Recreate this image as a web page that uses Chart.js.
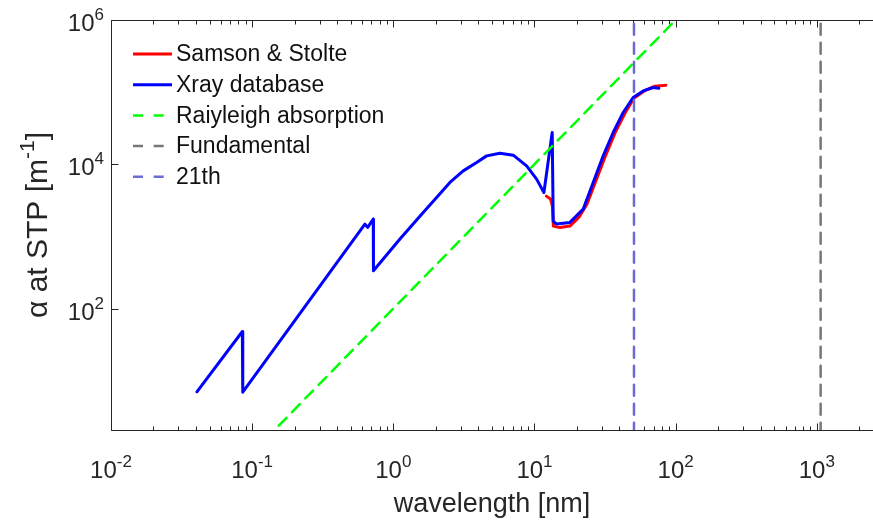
<!DOCTYPE html>
<html>
<head>
<meta charset="utf-8">
<script src="https://cdn.jsdelivr.net/npm/chart.js@4.4.1/dist/chart.umd.min.js"></script>
<style>
  html, body { margin: 0; padding: 0; background: #fff; }
  #chart { display: block; }
</style>
</head>
<body>
<canvas id="chart" width="873" height="522"></canvas>
<script>
// wavelength in nm, absorption coefficient in 1/m
const xrayWl = [0.0406, 0.0852, 0.0858, 0.629, 0.658, 0.721, 0.723, 1.114, 1.628, 2.026,
  2.517, 3.126, 3.89, 4.58, 5.689, 7.067, 8.793, 10.35, 11.66, 13.35,
  13.57, 14.34, 17.81, 22.13, 26.05, 30.66, 36.09, 42.48, 50.0, 58.87,
  69.29, 76.0];
const xrayAlpha = [6.98, 48.0, 6.91, 1481, 1332, 1736, 334, 918, 2150, 3469,
  5596, 8100, 10590, 13070, 14250, 13370, 9502, 6218, 4068, 27570,
  1629, 1481, 1563, 2388, 5596, 13070, 27570, 52190, 84190, 103900,
  115800, 113000];

const samsonWl = [12.14, 13.0, 13.39, 13.61, 15.13, 17.81, 20.66, 23.52, 26.81, 31.56,
  37.14, 43.72, 50.58, 59.55, 71.24, 85.23];
const samsonAlpha = [3615, 3285, 2628, 1389, 1324, 1389, 1851, 2802, 5472, 12540,
  26960, 51030, 82330, 102900, 120700, 124600];

const rayleighWl = [0.1, 100];
const rayleighAlpha = [1, 1e6];

const fundamentalWl = 1064;
const harmonicWl = 50.67;
const vLineAlpha = [1, 1e7];

const xTickExps = [-2, -1, 0, 1, 2, 3];
const minorSteps = [2, 3, 4, 5, 6, 7, 8, 9];
const yTickExps = [2, 4, 6];

const legendNames = ['Samson & Stolte', 'Xray database', 'Raiyleigh absorption', 'Fundamental', '21th'];

const axisColor = '#262626';
const fontFam = '"Liberation Sans", Arial, sans-serif';

function pairs(xs, ys) {
  return xs.map((v, i) => ({ x: v, y: ys[i] }));
}

function drawPow(ctx, exp, x, y, align, size) {
  const base = '10';
  const sup = String(exp);
  const supSize = Math.round(size * 0.72);
  ctx.font = size + 'px ' + fontFam;
  const wb = ctx.measureText(base).width;
  ctx.font = supSize + 'px ' + fontFam;
  const ws = ctx.measureText(sup).width;
  const x0 = align === 'center' ? x - (wb + ws) / 2 : x - wb - ws;
  ctx.textAlign = 'left';
  ctx.textBaseline = 'alphabetic';
  ctx.font = size + 'px ' + fontFam;
  ctx.fillText(base, x0, y);
  ctx.font = supSize + 'px ' + fontFam;
  ctx.fillText(sup, x0 + wb, y - size * 0.45);
}

const axesPlugin = {
  id: 'matlabAxes',
  beforeDatasetsDraw(chart) {
    const { ctx, chartArea: a } = chart;
    const x = chart.scales.x;
    const y = chart.scales.y;
    ctx.save();
    ctx.strokeStyle = axisColor;
    ctx.lineWidth = 1;
    ctx.beginPath();
    const L = a.left + 0.5, T = a.top + 0.5, B = a.bottom + 0.5;
    ctx.moveTo(a.right, T); ctx.lineTo(L, T); ctx.lineTo(L, B); ctx.lineTo(a.right, B);
    xTickExps.forEach(e => {
      [1].concat(minorSteps).forEach(m => {
        const v = m * Math.pow(10, e);
        if (v > x.max) return;
        const px = Math.round(x.getPixelForValue(v)) + 0.5;
        const len = m === 1 ? 7 : 4;
        ctx.moveTo(px, B); ctx.lineTo(px, B - len);
        ctx.moveTo(px, T); ctx.lineTo(px, T + len);
      });
    });
    yTickExps.forEach(e => {
      const py = Math.round(y.getPixelForValue(Math.pow(10, e))) + 0.5;
      ctx.moveTo(L, py); ctx.lineTo(L + 7, py);
    });
    ctx.stroke();

    ctx.fillStyle = axisColor;
    xTickExps.forEach(e => {
      drawPow(ctx, e, x.getPixelForValue(Math.pow(10, e)), a.bottom + 48, 'center', 24);
    });
    yTickExps.forEach(e => {
      drawPow(ctx, e, a.left - 7, y.getPixelForValue(Math.pow(10, e)) + 11, 'right', 24);
    });

    // axis titles
    ctx.font = '27px ' + fontFam;
    ctx.textAlign = 'center';
    ctx.textBaseline = 'alphabetic';
    ctx.fillText('wavelength [nm]', (a.left + a.right) / 2, 512);

    ctx.save();
    ctx.translate(47, (a.top + a.bottom) / 2);
    ctx.rotate(-Math.PI / 2);
    const main = 'α at STP [m';
    const sup = '-1';
    const end = ']';
    ctx.font = '30px ' + fontFam;
    const w1 = ctx.measureText(main).width;
    const w3 = ctx.measureText(end).width;
    ctx.font = '21px ' + fontFam;
    const w2 = ctx.measureText(sup).width;
    const sx = -(w1 + w2 + w3) / 2;
    ctx.textAlign = 'left';
    ctx.font = '30px ' + fontFam;
    ctx.fillText(main, sx, 0);
    ctx.font = '21px ' + fontFam;
    ctx.fillText(sup, sx + w1, -13);
    ctx.font = '30px ' + fontFam;
    ctx.fillText(end, sx + w1 + w2, 0);
    ctx.restore();
    ctx.restore();
  },
  afterDatasetsDraw(chart) {
    const { ctx, chartArea: a } = chart;
    const sets = chart.data.datasets;
    ctx.save();
    const x0 = a.left + 22, x1 = a.left + 61;
    legendNames.forEach((name, i) => {
      const ds = sets.find(d => d.label === name);
      const yy = a.top + 34 + i * 30.7;
      ctx.strokeStyle = ds.borderColor;
      ctx.lineWidth = ds.borderWidth;
      ctx.setLineDash(ds.borderDash ? [10, 10.7] : []);
      ctx.beginPath();
      ctx.moveTo(x0, yy);
      ctx.lineTo(ds.borderDash ? x0 + 30.7 : x1, yy);
      ctx.stroke();
      ctx.setLineDash([]);
      ctx.fillStyle = '#111';
      ctx.font = '23px ' + fontFam;
      ctx.textAlign = 'left';
      ctx.textBaseline = 'middle';
      ctx.fillText(name, x1 + 4, yy + 1);
    });
    ctx.restore();
  }
};

new Chart(document.getElementById('chart'), {
  type: 'scatter',
  data: {
    datasets: [
      { label: 'Samson & Stolte', data: pairs(samsonWl, samsonAlpha), borderColor: '#ff0000', borderWidth: 3, order: 5 },
      { label: 'Xray database', data: pairs(xrayWl, xrayAlpha), borderColor: '#0000ff', borderWidth: 3, order: 4 },
      { label: 'Raiyleigh absorption', data: pairs(rayleighWl, rayleighAlpha), borderColor: '#00ff00', borderWidth: 2.5, borderDash: [11, 8], order: 3 },
      { label: 'Fundamental', data: pairs([fundamentalWl, fundamentalWl], vLineAlpha), borderColor: '#777777', borderWidth: 2.5, borderDash: [11, 8], order: 2 },
      { label: '21th', data: pairs([harmonicWl, harmonicWl], vLineAlpha), borderColor: '#6b6bd6', borderWidth: 2.5, borderDash: [11, 8], order: 1 }
    ].map(d => Object.assign(d, { showLine: true, pointRadius: 0, fill: false, tension: 0, borderJoinStyle: 'round', borderCapStyle: 'round' }))
  },
  options: {
    responsive: false,
    devicePixelRatio: 1,
    animation: false,
    layout: { padding: { left: 111, top: 20, right: 0, bottom: 92 } },
    plugins: { legend: { display: false }, tooltip: { enabled: false } },
    scales: {
      x: { type: 'logarithmic', display: false, min: 0.01, max: 2500 },
      y: { type: 'logarithmic', display: false, min: 2.07, max: 1e6 }
    }
  },
  plugins: [axesPlugin]
});
</script>
</body>
</html>
